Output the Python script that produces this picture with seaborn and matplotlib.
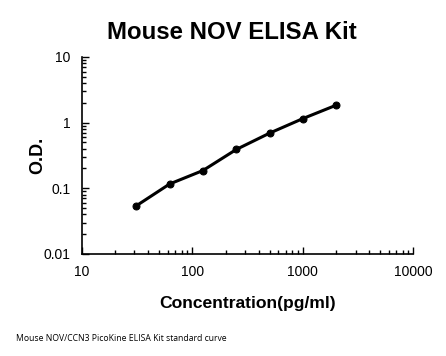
import numpy as np
import pandas as pd
import matplotlib
matplotlib.use('Agg')
import matplotlib.pyplot as plt
import seaborn as sns
from matplotlib.ticker import LogLocator, FixedLocator, NullFormatter

# 표준곡선 데이터
concentration = [31.25, 62.5, 125, 250, 500, 1000, 2000]
od_values = [0.054, 0.116, 0.186, 0.389, 0.69, 1.15, 1.84]

x_ticks = [10, 100, 1000, 10000]
x_labels = ['10', '100', '1000', '10000']
y_ticks = [0.01, 0.1, 1, 10]
y_labels = ['0.01', '0.1', '1', '10']

df = pd.DataFrame({'conc': concentration, 'od': od_values})

sns.set_style('white')
plt.rcParams['font.family'] = ['Liberation Sans', 'DejaVu Sans']
plt.rcParams['text.color'] = 'black'
plt.rcParams['axes.labelcolor'] = 'black'
plt.rcParams['xtick.color'] = 'black'
plt.rcParams['ytick.color'] = 'black'

fig = plt.figure(figsize=(4.46, 3.56), dpi=100)
ax = fig.add_axes([0.183, 0.287, 0.744, 0.553])

sns.lineplot(data=df, x='conc', y='od', ax=ax, color='black', linewidth=2.2,
             marker='o', markersize=5, markeredgecolor='black')

ax.set_xscale('log')
ax.set_yscale('log')
ax.set_xlim(10, 10000)
ax.set_ylim(0.01, 10)

ax.xaxis.set_major_locator(FixedLocator(x_ticks))
ax.set_xticklabels(x_labels)
ax.yaxis.set_major_locator(FixedLocator(y_ticks))
ax.set_yticklabels(y_labels)
ax.xaxis.set_minor_locator(LogLocator(base=10, subs=np.arange(2, 10)))
ax.yaxis.set_minor_locator(LogLocator(base=10, subs=np.arange(2, 10)))
ax.xaxis.set_minor_formatter(NullFormatter())
ax.yaxis.set_minor_formatter(NullFormatter())

ax.tick_params(which='major', direction='in', length=5, width=1,
               labelsize=10, pad=8)
ax.tick_params(which='minor', direction='in', length=3, width=1)
ax.tick_params(axis='y', which='major', pad=8)
ax.tick_params(axis='y', which='both', left=True)
ax.tick_params(axis='x', which='both', bottom=True)

for side in ['top', 'right']:
    ax.spines[side].set_visible(False)
for side in ['left', 'bottom']:
    ax.spines[side].set_color('black')
    ax.spines[side].set_linewidth(1.2)

ax.set_xlabel('Concentration(pg/ml)', fontsize=12.6, fontweight='bold', labelpad=12)
ax.set_ylabel('O.D.', fontsize=13, fontweight='bold', labelpad=-2)

fig.text(0.52, 0.91, 'Mouse NOV ELISA Kit', ha='center', va='center',
         fontsize=17.3, fontweight='bold')
fig.text(0.035, 0.048, 'Mouse NOV/CCN3 PicoKine ELISA Kit standard curve',
         ha='left', va='center', fontsize=6.2, family=['Open Sans', 'DejaVu Sans'])

fig.savefig('out.png', dpi=100)
